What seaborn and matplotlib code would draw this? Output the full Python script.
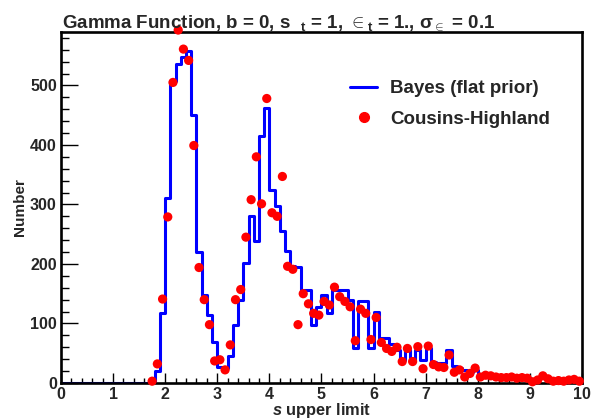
import numpy as np
import pandas as pd
import matplotlib
matplotlib.use("Agg")
import matplotlib.pyplot as plt
from matplotlib.lines import Line2D
from matplotlib.ticker import MultipleLocator
import seaborn as sns

# ---- data -------------------------------------------------------------
bin_width = 0.1
bin_range = (0, 10)
bin_centers = np.round(np.arange(0.05, 10, 0.1), 3)

bayes_counts = [0] * 18 + [
    20, 118, 311, 507, 536, 548, 558, 451, 220, 148,      # 1.8 - 2.7
    114, 69, 27, 25, 45, 98, 140, 201, 281, 238,          # 2.8 - 3.7
    415, 462, 325, 297, 255, 222, 197, 195, 157, 157,     # 3.8 - 4.7
    98, 128, 147, 118, 157, 157, 157, 140, 58, 137,       # 4.8 - 5.7
    137, 58, 120, 75, 75, 66, 56, 39, 56, 39,             # 5.8 - 6.7
    56, 39, 58, 36, 33, 33, 56, 28, 25, 22,               # 6.8 - 7.7
    18, 22, 15, 12, 14, 10, 10, 9, 8, 9,                  # 7.8 - 8.7
    8, 8, 7, 7, 8, 9, 4, 4, 4, 3,                         # 8.8 - 9.7
    3, 3,                                                 # 9.8 - 9.9
]

ch_start_bin = 17
ch_counts = [
    3, 32, 141, 279, 505, 593, 561, 542, 399, 194,        # 1.7 - 2.6
    140, 98, 37, 39, 22, 64, 140, 157, 245, 308,          # 2.7 - 3.6
    380, 301, 478, 286, 280, 347, 196, 191, 98, 150,      # 3.7 - 4.6
    133, 117, 114, 137, 131, 161, 145, 137, 128, 71,      # 4.7 - 5.6
    124, 117, 73, 110, 68, 58, 53, 60, 36, 58,            # 5.7 - 6.6
    36, 61, 24, 62, 31, 27, 26, 47, 18, 22,               # 6.7 - 7.6
    10, 16, 25, 10, 13, 12, 10, 9, 9, 10,                 # 7.7 - 8.6
    8, 9, 8, 2, 5, 12, 7, 3, 4, 3,                        # 8.7 - 9.6
    5, 6, 3,                                              # 9.7 - 9.9
]
ch_x = bin_centers[ch_start_bin:ch_start_bin + len(ch_counts)]

title_text = (r"Gamma Function, b = 0, s $\ _{\mathbf{t}}$ = 1, "
              r"$\in_{\mathbf{t}}$ = 1., $\mathrm{\sigma}_{\in}$ = 0.1")
xlabel_text = r"$\mathit{s}$ upper limit"
ylabel_text = "Number"
legend_labels = ["Bayes (flat prior)", "Cousins-Highland"]

bayes_df = pd.DataFrame({"s": bin_centers, "n": np.asarray(bayes_counts, float)})
ch_df = pd.DataFrame({"s": ch_x, "n": ch_counts})

# ---- style ------------------------------------------------------------
sns.set_style("white")
plt.rcParams["font.family"] = ["Liberation Sans", "DejaVu Sans"]
plt.rcParams["font.weight"] = "bold"
plt.rcParams["mathtext.fontset"] = "custom"
plt.rcParams["mathtext.rm"] = "Liberation Sans"
plt.rcParams["mathtext.it"] = "Liberation Sans:italic:bold"
plt.rcParams["mathtext.bf"] = "Liberation Sans:bold"

blue = "#0000ff"
red = "#ff0000"

fig = plt.figure(figsize=(5.92, 4.19), dpi=100)
ax = fig.add_axes([0.103, 0.086, 0.880, 0.838])

sns.histplot(data=bayes_df, x="s", weights="n", binwidth=bin_width,
             binrange=bin_range, element="step", fill=False, color=blue,
             linewidth=2.2, ax=ax)
sns.scatterplot(data=ch_df, x="s", y="n", color=red, s=44, edgecolor="none",
                linewidth=0, ax=ax, zorder=4, clip_on=False)

ax.set_xlim(0, 10)
ax.set_ylim(0, 590)
ax.xaxis.set_major_locator(MultipleLocator(1))
ax.xaxis.set_minor_locator(MultipleLocator(0.2))
ax.yaxis.set_major_locator(MultipleLocator(100))
ax.yaxis.set_minor_locator(MultipleLocator(20))
ax.tick_params(axis="both", which="both", direction="in",
               top=False, right=False, bottom=True, left=True,
               color="black", width=1.0)
ax.tick_params(axis="x", which="major", length=7, pad=3, labelsize=11.5)
ax.tick_params(axis="x", which="minor", length=3.5)
ax.tick_params(axis="y", which="major", length=12, pad=3, labelsize=11.5)
ax.tick_params(axis="y", which="minor", length=6)
for lab in ax.get_xticklabels() + ax.get_yticklabels():
    lab.set_fontweight("bold")
for sp in ax.spines.values():
    sp.set_visible(True)
    sp.set_color("black")
    sp.set_linewidth(1.9)

ax.set_xlabel(xlabel_text, fontsize=11.8, fontweight="bold", labelpad=-1)
ax.set_ylabel(ylabel_text, fontsize=11, fontweight="bold", labelpad=2)

fig.text(0.105, 0.945, title_text, fontsize=13.5, fontweight="bold",
         ha="left", va="center")

handles = [Line2D([0], [0], color=blue, lw=2.2),
           Line2D([0], [0], marker="o", color=red, ls="", markersize=7)]
ax.legend(handles, legend_labels, loc="upper left",
          bbox_to_anchor=(0.555, 0.862), frameon=False,
          prop={"weight": "bold", "size": 13.5}, handlelength=1.45,
          handletextpad=0.7, labelspacing=0.72, borderpad=0,
          borderaxespad=0)

fig.savefig("out.png", dpi=100)
